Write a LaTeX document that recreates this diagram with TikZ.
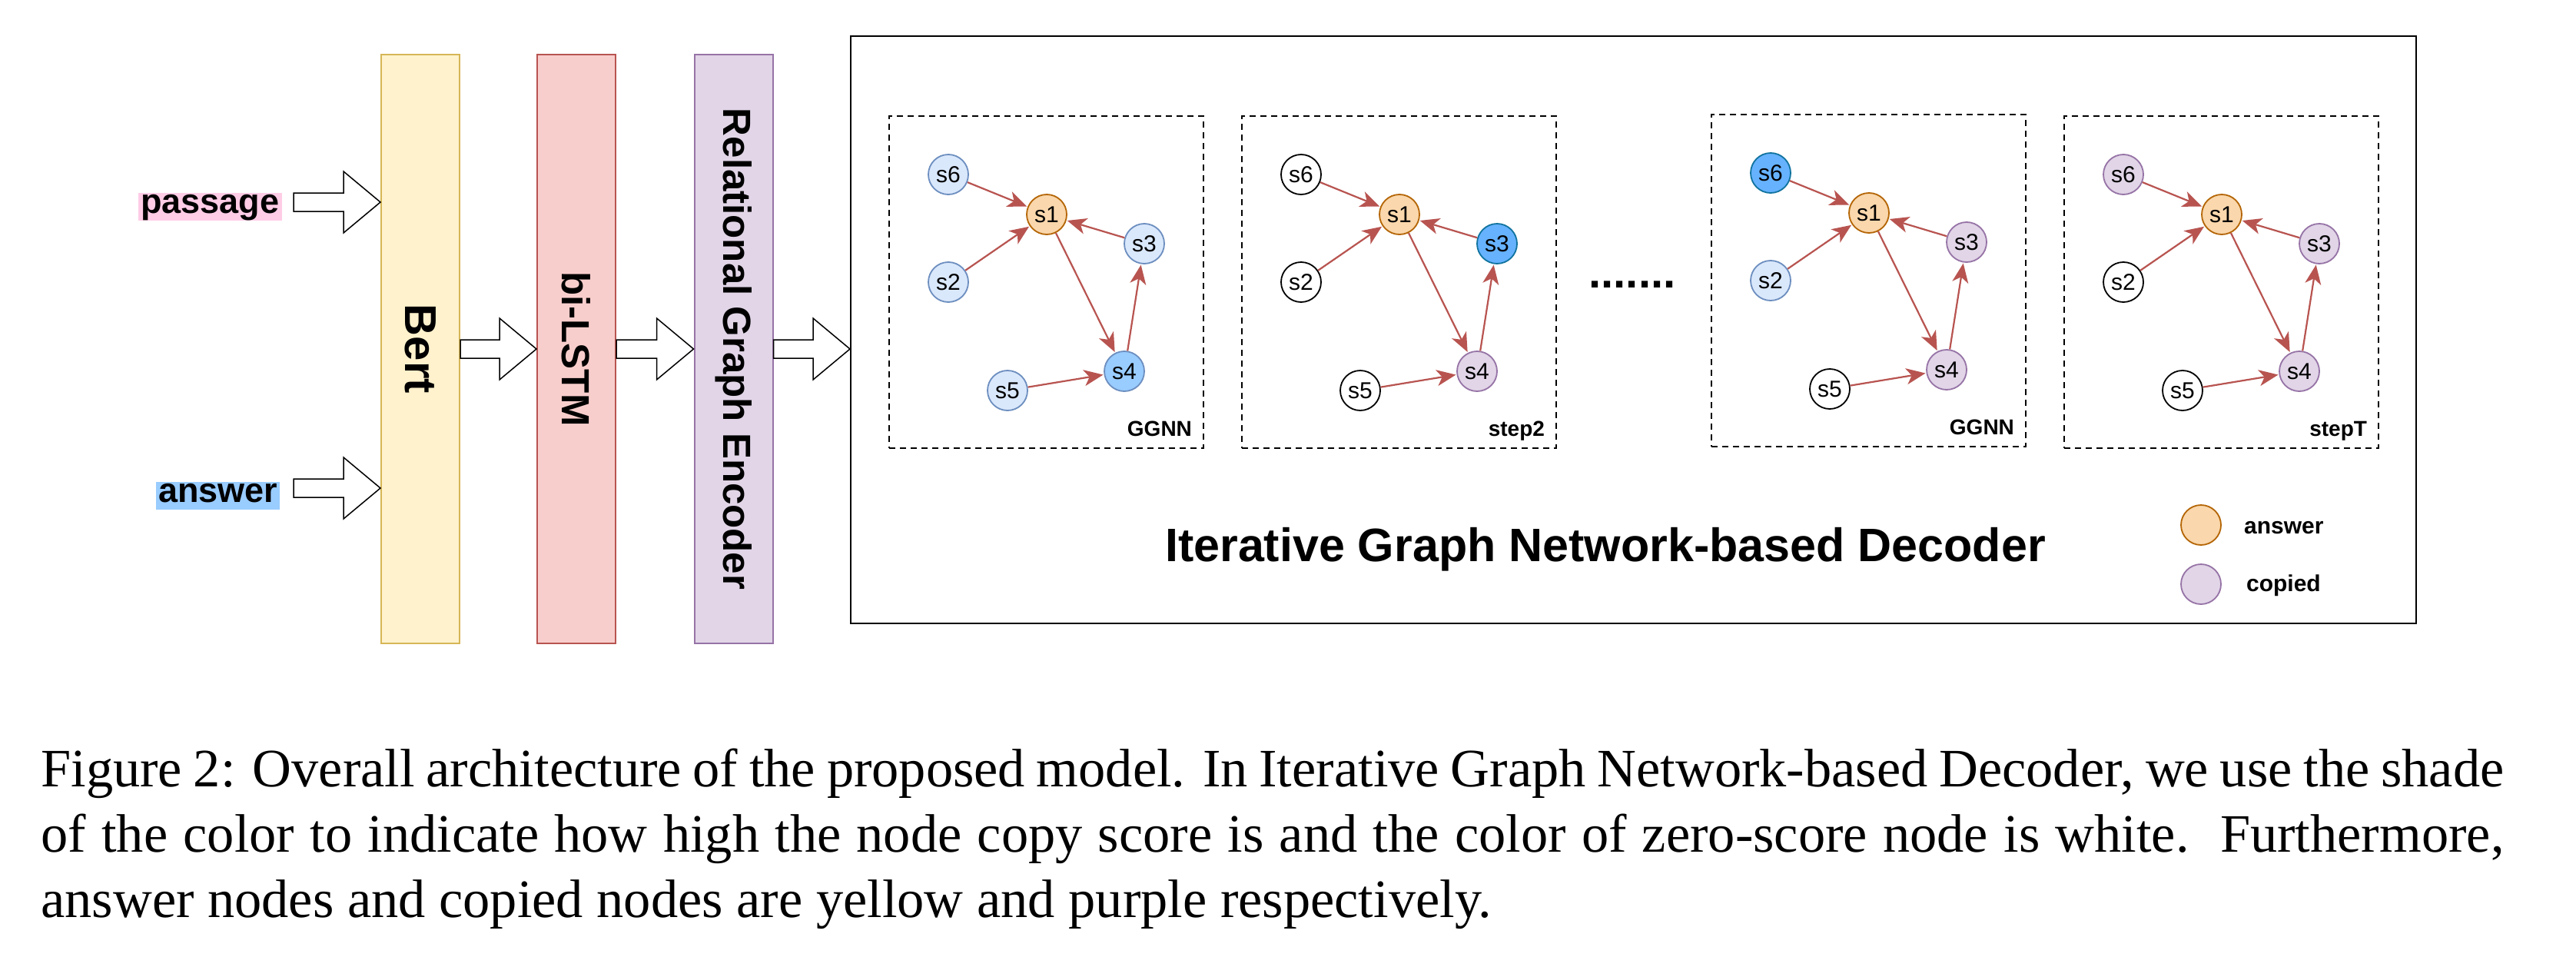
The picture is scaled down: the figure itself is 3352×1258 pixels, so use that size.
\documentclass[tikz,border=0pt]{standalone}
\usepackage{fontspec}
\setmainfont{Liberation Serif}
\setsansfont{Liberation Sans}
\usetikzlibrary{arrows.meta,calc}
\definecolor{ylF}{HTML}{FFF2CC}\definecolor{ylD}{HTML}{D6B656}
\definecolor{rdF}{HTML}{F8CECC}\definecolor{rdD}{HTML}{B85450}
\definecolor{puF}{HTML}{E1D5E7}\definecolor{puD}{HTML}{9673A6}
\definecolor{lbF}{HTML}{DAE8FC}\definecolor{lbD}{HTML}{6C8EBF}
\definecolor{mbF}{HTML}{99CCFF}
\definecolor{dbF}{HTML}{66B2FF}\definecolor{dbD}{HTML}{10739E}
\definecolor{orF}{HTML}{FAD7AC}\definecolor{orD}{HTML}{B46504}
\definecolor{pkH}{HTML}{FFCCE6}\definecolor{blH}{HTML}{99CCFF}
\newcommand\fsz[1]{\fontsize{#1}{1.2\dimexpr#1pt\relax}\selectfont}
\newcommand\blockarrow[2]{\draw[blockarr] let \p1=(#1), \p2=(#2) in
 (\x1,\y1+6pt) -- (\x2-24pt,\y1+6pt) -- (\x2-24pt,\y1+20pt) -- (\x2,\y1) --
 (\x2-24pt,\y1-20pt) -- (\x2-24pt,\y1-6pt) -- (\x1,\y1-6pt) -- cycle;}
\newcommand\gpanel[9]{%
\begin{scope}[shift={(#2,#3)}]
\node[panelbox] (#1box) at (204.5,216) {};
\node[gn,#5] (#1s6) at (77,76) {s6};
\node[gn,an] (#1s1) at (205,128) {s1};
\node[gn,#7] (#1s3) at (332,166) {s3};
\node[gn,#6] (#1s2) at (77,216) {s2};
\node[gn,#8] (#1s4) at (306,332) {s4};
\node[gn,#9] (#1s5) at (154,357) {s5};
\node[anchor=base east,font=\sffamily\bfseries\fsz{14}] (#1lab) at (401,416) {#4};
\draw[edge] (#1s6) -- (#1s1);
\draw[edge] (#1s2) -- (#1s1);
\draw[edge] (#1s3) -- (#1s1);
\draw[edge] (#1s1) -- (#1s4);
\draw[edge] (#1s4) -- (#1s3);
\draw[edge] (#1s5) -- (#1s4);
\end{scope}}
\tikzset{
 blockarr/.style={draw=black,fill=white,line width=0.75pt,line join=miter},
 layer/.style={draw,line width=1pt,minimum width=51pt,minimum height=383pt,inner sep=0pt},
 vlabel/.style={rotate=-90,font=\sffamily\bfseries\fsz{25.5}},
 panelbox/.style={draw,line width=0.8pt,dash pattern=on 4pt off 3pt,minimum width=204.5pt,minimum height=216pt,inner sep=0pt},
 gn/.style={circle,minimum size=26pt,inner sep=0pt,line width=0.9pt,font=\sffamily\fsz{15}},
 lb/.style={fill=lbF,draw=lbD}, mb/.style={fill=mbF,draw=lbD}, db/.style={fill=dbF,draw=dbD},
 wh/.style={fill=white,draw=black}, pu/.style={fill=puF,draw=puD}, an/.style={fill=orF,draw=orD},
 edge/.style={draw=rdD,line width=1.1pt,-{Stealth[length=12.5pt,width=10.5pt,inset=3.5pt]},shorten >=0.5pt},
 hl/.style={inner xsep=1.5pt,inner ysep=0pt,text height=13pt,text depth=5pt,font=\sffamily\bfseries\fsz{22.5}},
 capline/.style={anchor=base west,inner sep=0pt,font=\rmfamily\fsz{35.2}}
}
\begin{document}
\begin{tikzpicture}[x=0.5pt,y=-0.5pt]
\path[use as bounding box,fill=white] (0,0) rectangle (3352,1258);
% input labels
\node[hl,fill=pkH,anchor=base west] (passage) at (180,277) {passage};
\node[hl,fill=blH,anchor=base west] (answer) at (203,653) {answer};
% layer boxes
\node[layer,fill=ylF,draw=ylD] (bert) at (547,454) {};
\node[vlabel,font=\sffamily\bfseries\fsz{29}] (bertT) at (bert.center) {Bert};
\node[layer,fill=rdF,draw=rdD] (lstm) at (750,454) {};
\node[vlabel] (lstmT) at (lstm.center) {bi-LSTM};
\node[layer,fill=puF,draw=puD] (rge) at (954.5,454) {};
\node[vlabel] (rgeT) at (rge.center) {Relational Graph Encoder};
% decoder box
\node[draw,line width=1pt,minimum width=1018.5pt,minimum height=382pt,inner sep=0pt] (dec) at (2125.5,429) {};
% block arrows
\coordinate (pa) at (382,263);
\coordinate (aa) at (382,635);
\blockarrow{pa}{bert.west |- pa}
\blockarrow{aa}{bert.west |- aa}
\blockarrow{bert.east}{lstm.west}
\blockarrow{lstm.east}{rge.west}
\blockarrow{rge.east}{dec.west |- rge.east}
% graph panels
\gpanel{pA}{1157}{151}{GGNN}{lb}{lb}{lb}{mb}{lb}
\gpanel{pB}{1616}{151}{step2}{wh}{wh}{db}{pu}{wh}
\gpanel{pC}{2227}{149}{GGNN}{db}{lb}{pu}{pu}{wh}
\gpanel{pD}{2686}{151}{stepT}{pu}{wh}{pu}{pu}{wh}
\node[anchor=base,font=\sffamily\bfseries\fsz{29}] (dots) at (2124,374) {.......};
% title
\node[anchor=base,font=\sffamily\bfseries\fsz{30.5}] (title) at (2089,730) {Iterative Graph Network-based Decoder};
% legend
\node[gn,an] (legA) at (2864,683) {};
\node[gn,pu] (legC) at (2864,760) {};
\node[anchor=base west,font=\sffamily\bfseries\fsz{15}] (legAT) at (2913,694) {answer};
\node[anchor=base west,font=\sffamily\bfseries\fsz{15}] (legCT) at (2916,769) {copied};
% caption
\node[capline] (cap1) at (53,1023) {\makebox[1602.5pt][s]{Figure 2: Overall architecture of the proposed model. In Iterative Graph Network-based Decoder, we use the shade}};
\node[capline] (cap2) at (53,1108) {\makebox[1602.5pt][s]{of the color to indicate how high the node copy score is and the color of zero-score node is white.\ \ Furthermore,}};
\node[capline] (cap3) at (53,1193) {answer nodes and copied nodes are yellow and purple respectively.};
\end{tikzpicture}
\end{document}
